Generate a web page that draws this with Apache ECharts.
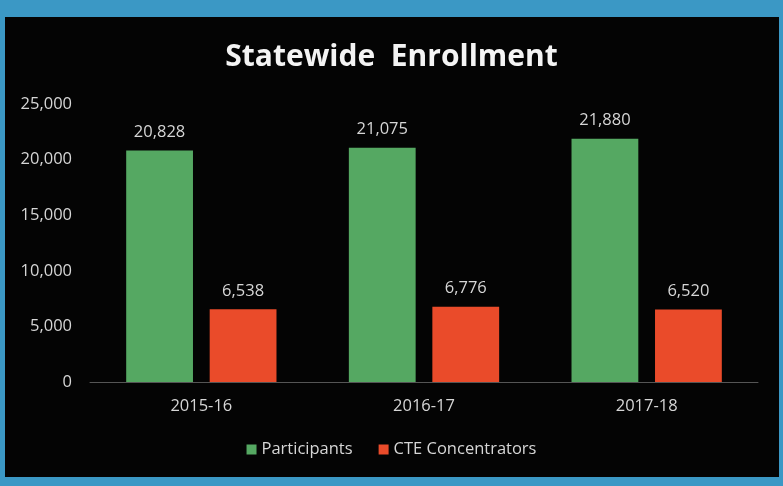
<!DOCTYPE html>
<html>
<head>
<meta charset="utf-8">
<script src="https://cdn.jsdelivr.net/npm/echarts@6/dist/echarts.min.js"></script>
<style>
  html, body { margin: 0; padding: 0; background: #3b98c5; }
  #chart { width: 783px; height: 486px; }
</style>
</head>
<body>
<div id="chart"></div>
<script>
// School years on the category axis
const years = ['2015-16', '2016-17', '2017-18'];
// Enrollment counts per year
const participants = [20828, 21075, 21880];
const cteConcentrators = [6538, 6776, 6520];
// Value axis ticks
const yTicks = [0, 5000, 10000, 15000, 20000, 25000];

const fontFamily = '"Open Sans", Lato, sans-serif';
const textColor = '#d6d6d6';
const textSize = 16.5;
const fmt = v => v.toLocaleString('en-US');

const chart = echarts.init(document.getElementById('chart'));
chart.setOption({
  backgroundColor: '#3b98c5',
  graphic: [{
    type: 'rect',
    z: -10,
    shape: { x: 5, y: 17, width: 774, height: 460 },
    style: { fill: '#040404' }
  }],
  title: {
    text: 'Statewide  Enrollment',
    left: 'center',
    top: 37,
    textStyle: { color: '#f4f4f4', fontFamily, fontWeight: 'bold', fontSize: 30 }
  },
  legend: {
    bottom: 23,
    left: 'center',
    itemWidth: 10,
    itemHeight: 10,
    itemGap: 26,
    icon: 'rect',
    textStyle: { color: textColor, fontFamily, fontSize: textSize },
    data: ['Participants', 'CTE Concentrators']
  },
  grid: { left: 90, right: 25, top: 104, bottom: 104 },
  xAxis: {
    type: 'category',
    data: years,
    axisLine: { lineStyle: { color: '#555555' } },
    axisTick: { show: false },
    axisLabel: { color: textColor, fontFamily, fontSize: textSize, margin: 16 }
  },
  yAxis: {
    type: 'value',
    min: yTicks[0],
    max: yTicks[yTicks.length - 1],
    interval: yTicks[1] - yTicks[0],
    axisLine: { show: false },
    axisTick: { show: false },
    splitLine: { show: false },
    axisLabel: { color: textColor, fontFamily, fontSize: textSize, margin: 18, formatter: fmt }
  },
  series: [
    {
      name: 'Participants',
      type: 'bar',
      data: participants,
      barWidth: '30%',
      barGap: '25%',
      itemStyle: { color: '#55a862' },
      label: { show: true, position: 'top', distance: 10, color: textColor, fontFamily, fontSize: textSize, formatter: p => fmt(p.value) }
    },
    {
      name: 'CTE Concentrators',
      type: 'bar',
      data: cteConcentrators,
      barWidth: '30%',
      itemStyle: { color: '#ea4b2a' },
      label: { show: true, position: 'top', distance: 10, color: textColor, fontFamily, fontSize: textSize, formatter: p => fmt(p.value) }
    }
  ]
});
</script>
</body>
</html>
